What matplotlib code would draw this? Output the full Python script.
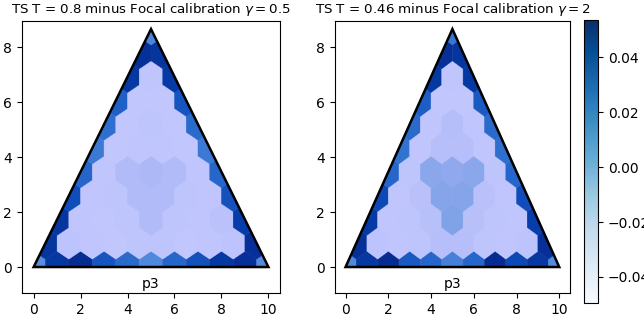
import matplotlib
matplotlib.use('Agg')
import matplotlib.pyplot as plt
import numpy as np
from matplotlib.collections import PolyCollection
from matplotlib.patches import Polygon
from matplotlib.colors import Normalize

#%%
scale = 10

# heatmap values on the simplex lattice
# row j goes from the bottom edge (j=0) to the top corner (j=10),
# inside a row i runs left to right
left_rows = [
    [0.000, 0.045, 0.050, 0.030, 0.020, 0.004, 0.022, 0.032, 0.045, 0.048, 0.002],
    [0.046, -0.044, -0.046, -0.047, -0.045, -0.045, -0.047, -0.046, -0.044, 0.048],
    [0.046, -0.046, -0.047, -0.045, -0.036, -0.045, -0.046, -0.043, 0.042],
    [0.034, -0.046, -0.045, -0.036, -0.036, -0.045, -0.046, 0.032],
    [0.022, -0.046, -0.036, -0.034, -0.036, -0.046, 0.022],
    [0.012, -0.047, -0.046, -0.046, -0.047, 0.012],
    [0.018, -0.047, -0.045, -0.047, 0.020],
    [0.025, -0.047, -0.047, 0.030],
    [0.045, -0.046, 0.044],
    [0.048, 0.046],
    [0.006],
]

right_rows = [
    [0.004, 0.045, 0.050, 0.028, 0.022, 0.008, 0.022, 0.050, 0.036, 0.045, 0.002],
    [0.048, -0.044, -0.046, -0.045, -0.040, -0.040, -0.045, -0.046, -0.044, 0.048],
    [0.044, -0.046, -0.045, -0.041, -0.012, -0.041, -0.045, -0.046, 0.042],
    [0.036, -0.046, -0.042, -0.014, -0.014, -0.042, -0.046, 0.034],
    [0.022, -0.045, -0.016, -0.018, -0.016, -0.045, 0.022],
    [0.016, -0.046, -0.040, -0.040, -0.046, 0.018],
    [0.020, -0.046, -0.039, -0.046, 0.020],
    [0.026, -0.047, -0.047, 0.028],
    [0.045, -0.046, 0.045],
    [0.048, 0.046],
    [0.014],
]

titles = ["TS T = 0.8 minus Focal calibration $\\gamma = 0.5$",
          "TS T = 0.46 minus Focal calibration $\\gamma = 2$"]

xticks = [0, 2, 4, 6, 8, 10]
yticks = [0, 2, 4, 6, 8]

vmin = -0.0495
vmax = 0.0535

#%%
def draw_panel(ax, rows, title, norm):
    """hexagonal heatmap on the simplex, like python-ternary style='h'"""
    h = np.sqrt(3) / 2.
    r = 1 / np.sqrt(3)   # hexagon radius for unit lattice spacing
    ang = np.radians(np.arange(30, 390, 60))
    hexes = []
    vals = []
    for j, row in enumerate(rows):
        for i, v in enumerate(row):
            cx = i + j / 2.
            cy = j * h
            hexes.append(np.column_stack([cx + r * np.cos(ang),
                                          cy + r * np.sin(ang)]))
            vals.append(v)

    coll = PolyCollection(hexes, array=np.array(vals), cmap='Blues',
                          norm=norm, edgecolors='face', linewidths=0.3)
    ax.add_collection(coll)

    corners = [[0, 0], [scale, 0], [scale / 2., scale * h]]
    border = Polygon(corners, closed=True, fc='none', ec='black',
                     lw=1.8, zorder=4)
    ax.add_patch(border)
    coll.set_clip_path(border)

    # fine blue sample grid sitting on top of the heatmap
    shade = Polygon(corners, closed=True, fc='blue', ec='none',
                    alpha=0.2, zorder=3)
    ax.add_patch(shade)

    ax.text(scale / 2., -0.6, "p3", ha='center', va='center', fontsize=10)

    ax.set_xlim(-0.5, 10.5)
    ax.set_ylim(-0.95, 8.95)
    ax.set_xticks(xticks)
    ax.set_yticks(yticks)
    ax.set_title(title, fontsize=9.6)
    return coll


#%%
fig = plt.figure(figsize=(6.44, 3.2), dpi=100)
ax1 = fig.add_axes([0.034, 0.084, 0.401, 0.85])
ax2 = fig.add_axes([0.520, 0.084, 0.365, 0.85])
cax = fig.add_axes([0.907, 0.053, 0.0217, 0.884])

norm = Normalize(vmin=vmin, vmax=vmax)
draw_panel(ax1, left_rows, titles[0], norm)
coll = draw_panel(ax2, right_rows, titles[1], norm)

fig.colorbar(coll, cax=cax)

fig.savefig('out.png', dpi=100)
